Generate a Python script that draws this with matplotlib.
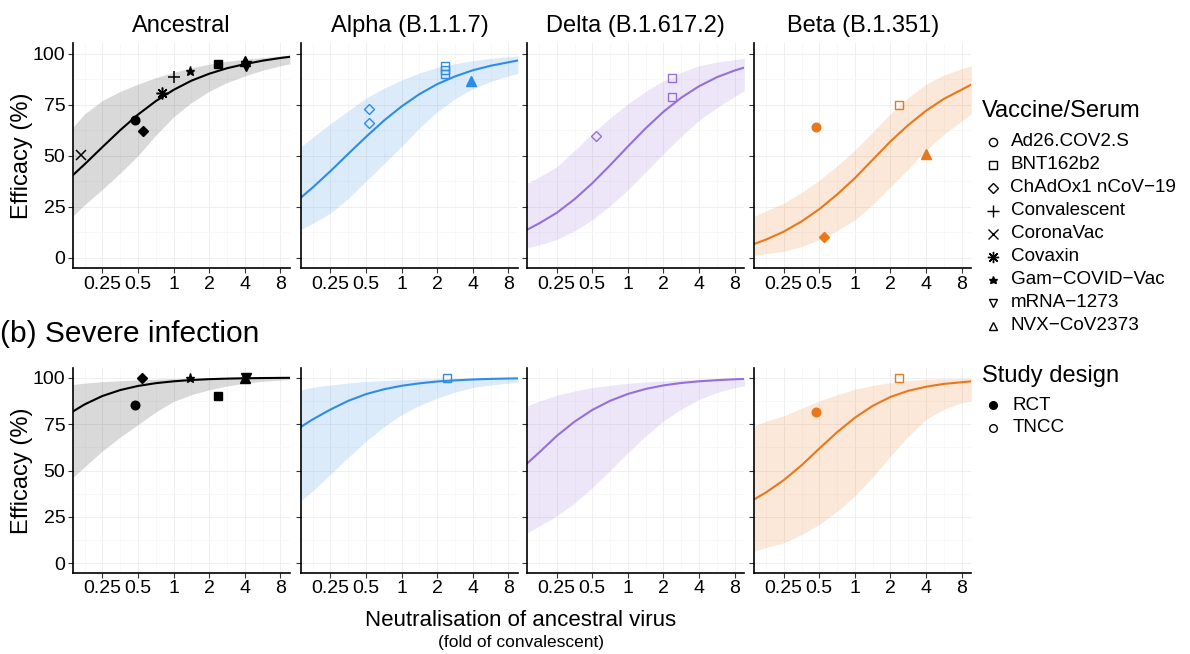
import matplotlib
matplotlib.use("Agg")
import matplotlib.pyplot as plt
from matplotlib.lines import Line2D
from matplotlib.ticker import FixedLocator, NullFormatter, FixedFormatter

plt.rcParams['font.family'] = ['Liberation Sans', 'DejaVu Sans']

# ---------------- data ----------------
variants = ["Ancestral", "Alpha (B.1.1.7)", "Delta (B.1.617.2)", "Beta (B.1.351)"]
variant_colors = ["#000000", "#2F8CE6", "#9670D6", "#E8781A"]
band_alphas = [0.15, 0.17, 0.17, 0.17]

x_ticks = [0.25, 0.5, 1, 2, 4, 8]
x_tick_labels = ["0.25", "0.5", "1", "2", "4", "8"]
y_ticks = [0, 25, 50, 75, 100]
y_tick_labels = ["0", "25", "50", "75", "100"]

# model curves (neutralisation, fold of convalescent)
curve_x = [0.141, 0.177, 0.25, 0.354, 0.5, 0.707, 1.0, 1.414, 2.0, 2.83, 4.0, 5.66, 8.0, 9.65]

# symptomatic infection
sym_mid_ancestral = [40.5, 45.8, 54.2, 62.5, 70.1, 76.7, 82.2, 86.7, 90.1, 92.8, 94.8, 96.5, 97.8, 98.4]
sym_lo_ancestral = [20.5, 26.0, 33.5, 41.5, 50.0, 60.0, 69.0, 76.0, 81.5, 85.8, 89.0, 91.8, 94.0, 95.0]
sym_hi_ancestral = [64.0, 70.5, 77.0, 81.5, 85.0, 88.2, 90.8, 93.0, 94.8, 96.2, 97.2, 98.0, 98.8, 99.2]

sym_mid_alpha = [29.5, 34.4, 42.4, 50.9, 59.2, 67.1, 74.1, 80.1, 85.0, 88.8, 91.8, 94.0, 95.7, 96.6]
sym_lo_alpha = [13.8, 16.8, 21.9, 29.0, 37.5, 46.0, 54.5, 63.5, 71.5, 77.8, 82.7, 86.3, 89.1, 90.3]
sym_hi_alpha = [54.3, 59.0, 65.6, 72.0, 78.2, 83.0, 87.0, 90.5, 93.2, 95.0, 96.5, 97.6, 98.4, 98.8]

sym_mid_delta = [13.8, 16.8, 22.0, 28.7, 36.5, 45.3, 54.5, 63.4, 71.5, 78.4, 84.0, 88.4, 91.7, 93.1]
sym_lo_delta = [4.9, 6.3, 8.9, 13.2, 18.6, 25.5, 33.2, 42.0, 51.0, 59.5, 67.3, 73.5, 79.0, 81.8]
sym_hi_delta = [36.5, 39.5, 44.6, 52.5, 60.8, 68.5, 75.4, 81.5, 86.7, 90.8, 94.0, 95.8, 97.0, 97.6]

sym_mid_beta = [6.8, 8.9, 12.8, 17.8, 23.8, 31.0, 39.0, 48.0, 57.0, 65.0, 72.0, 77.8, 82.3, 84.8]
sym_lo_beta = [1.1, 2.0, 3.2, 5.5, 8.9, 13.2, 18.6, 26.0, 34.8, 43.5, 52.7, 60.5, 67.0, 70.5]
sym_hi_beta = [20.3, 23.0, 26.7, 32.0, 38.0, 45.0, 52.7, 61.5, 70.5, 78.5, 85.0, 89.5, 92.5, 94.0]

# severe infection
sev_mid_ancestral = [81.8, 85.6, 90.1, 93.3, 95.5, 97.0, 98.0, 98.7, 99.15, 99.44, 99.64, 99.76, 99.84, 99.88]
sev_lo_ancestral = [46.3, 52.0, 60.5, 68.0, 74.7, 81.5, 87.2, 90.8, 93.4, 95.5, 97.0, 98.0, 98.6, 98.9]
sev_hi_ancestral = [96.3, 97.0, 97.8, 98.3, 98.8, 99.1, 99.4, 99.6, 99.75, 99.85, 99.9, 99.93, 99.95, 99.96]

sev_mid_alpha = [73.5, 77.5, 82.8, 87.5, 91.1, 93.7, 95.6, 96.9, 97.9, 98.5, 99.0, 99.3, 99.5, 99.6]
sev_lo_alpha = [33.8, 39.0, 48.0, 57.0, 65.8, 73.5, 80.0, 85.0, 89.0, 92.2, 94.7, 96.0, 97.0, 97.6]
sev_hi_alpha = [93.4, 94.8, 96.0, 97.1, 97.9, 98.4, 98.8, 99.1, 99.4, 99.55, 99.7, 99.75, 99.8, 99.85]

sev_mid_delta = [53.9, 59.6, 68.6, 76.3, 82.6, 87.5, 91.2, 93.9, 95.8, 97.1, 98.0, 98.6, 99.1, 99.3]
sev_lo_delta = [16.5, 20.0, 25.5, 32.5, 40.8, 50.0, 59.6, 68.5, 76.7, 83.0, 88.3, 92.0, 94.6, 95.5]
sev_hi_delta = [84.7, 87.3, 90.5, 92.8, 94.6, 95.9, 96.9, 97.6, 98.2, 98.7, 99.1, 99.35, 99.5, 99.6]

sev_mid_beta = [34.5, 38.2, 44.8, 52.8, 61.8, 70.6, 78.4, 84.8, 89.6, 92.9, 95.1, 96.6, 97.5, 98.0]
sev_lo_beta = [6.6, 8.5, 11.1, 15.5, 21.0, 28.0, 36.3, 46.5, 57.8, 68.5, 77.6, 83.0, 86.5, 87.4]
sev_hi_beta = [74.0, 76.5, 79.4, 83.5, 87.4, 90.8, 93.7, 95.8, 97.3, 98.3, 99.1, 99.4, 99.55, 99.6]

sym_mid = [sym_mid_ancestral, sym_mid_alpha, sym_mid_delta, sym_mid_beta]
sym_lo = [sym_lo_ancestral, sym_lo_alpha, sym_lo_delta, sym_lo_beta]
sym_hi = [sym_hi_ancestral, sym_hi_alpha, sym_hi_delta, sym_hi_beta]
sev_mid = [sev_mid_ancestral, sev_mid_alpha, sev_mid_delta, sev_mid_beta]
sev_lo = [sev_lo_ancestral, sev_lo_alpha, sev_lo_delta, sev_lo_beta]
sev_hi = [sev_hi_ancestral, sev_hi_alpha, sev_hi_delta, sev_hi_beta]

# study estimates
vaccines = ["Ad26.COV2.S", "BNT162b2", "ChAdOx1 nCoV\u221219", "Convalescent", "CoronaVac",
            "Covaxin", "Gam\u2212COVID\u2212Vac", "mRNA\u22121273", "NVX\u2212CoV2373"]
designs = ["RCT", "TNCC"]

pt_outcome = (["sym"] * 9 + ["sym"] * 6 + ["sym"] * 3 + ["sym"] * 4
              + ["sev"] * 6 + ["sev"] + ["sev"] * 2)
pt_variant = ([0] * 9 + [1] * 6 + [2] * 3 + [3] * 4
              + [0] * 6 + [1] + [3] * 2)
pt_vaccine = [4, 0, 2, 5, 3, 6, 1, 8, 7,
              2, 2, 1, 1, 1, 8,
              2, 1, 1,
              0, 2, 1, 8,
              0, 2, 6, 1, 8, 7,
              1,
              0, 1]
pt_neut = [0.166, 0.47, 0.55, 0.80, 1.0, 1.38, 2.37, 4.0, 4.1,
           0.53, 0.53, 2.32, 2.32, 2.32, 3.85,
           0.54, 2.35, 2.35,
           0.47, 0.55, 2.37, 4.0,
           0.47, 0.54, 1.38, 2.37, 4.0, 4.1,
           2.4,
           0.47, 2.38]
pt_eff = [50.2, 67.3, 62.0, 80.5, 88.6, 91.2, 95.0, 96.4, 94.1,
          72.9, 66.0, 94.0, 92.0, 89.8, 86.4,
          59.8, 88.0, 78.9,
          64.0, 10.4, 75.0, 51.0,
          85.0, 100.0, 100.0, 90.0, 100.0, 100.0,
          100.0,
          81.7, 100.0]
pt_design = [0, 0, 0, 0, 1, 0, 0, 0, 0,
             1, 1, 1, 1, 1, 0,
             1, 1, 1,
             0, 0, 1, 0,
             0, 0, 0, 0, 0, 0,
             1,
             0, 1]

# ---------------- styles ----------------
vac_markers = ['o', 's', 'D', '+', 'x', (8, 2, 0), '*', 'v', '^']
vac_sizes = [6.2, 5.6, 5.4, 8.5, 7.5, 8.5, 6.5, 6.5, 6.5]
line_markers = [3, 4, 5]

W, H = 1190, 654
fig = plt.figure(figsize=(W / 100, H / 100), dpi=100)

col_left = [73, 301, 527.3, 754.3]
col_w = 217
rows = [(43.3, 268.0), (368.3, 572.7)]


def fx(px):
    return px / W


def fy(py):
    return 1 - py / H


minor_x = [2 ** (k + 0.5) for k in range(-3, 4)]
minor_y = [12.5, 37.5, 62.5, 87.5]

for r, (top, bot) in enumerate(rows):
    mids, los, his = (sym_mid, sym_lo, sym_hi) if r == 0 else (sev_mid, sev_lo, sev_hi)
    outcome = "sym" if r == 0 else "sev"
    for c in range(4):
        ax = fig.add_axes([fx(col_left[c]), fy(bot), col_w / W, (bot - top) / H])
        col = variant_colors[c]
        ax.fill_between(curve_x, los[c], his[c], color=col, alpha=band_alphas[c],
                        linewidth=0, zorder=1)
        ax.plot(curve_x, mids[c], color=col, lw=1.5, zorder=2, solid_joinstyle='round')
        for i in range(len(pt_eff)):
            if pt_outcome[i] != outcome or pt_variant[i] != c:
                continue
            v = pt_vaccine[i]
            filled = pt_design[i] == 0
            if v in line_markers:
                ax.plot(pt_neut[i], pt_eff[i], linestyle='none', marker=vac_markers[v],
                        markersize=vac_sizes[v], color=col, markeredgewidth=1.1, zorder=3)
            else:
                ax.plot(pt_neut[i], pt_eff[i], linestyle='none', marker=vac_markers[v],
                        markersize=vac_sizes[v], markeredgecolor=col,
                        markerfacecolor=(col if filled else 'none'),
                        markeredgewidth=1.0, zorder=3)
        ax.set_xscale('log', base=2)
        ax.set_xlim(0.141, 9.65)
        ax.set_ylim(-5, 105)
        ax.xaxis.set_major_locator(FixedLocator(x_ticks))
        ax.xaxis.set_major_formatter(FixedFormatter(x_tick_labels))
        ax.xaxis.set_minor_locator(FixedLocator(minor_x))
        ax.xaxis.set_minor_formatter(NullFormatter())
        ax.yaxis.set_major_locator(FixedLocator(y_ticks))
        ax.yaxis.set_minor_locator(FixedLocator(minor_y))
        ax.yaxis.set_minor_formatter(NullFormatter())
        if c == 0:
            ax.yaxis.set_major_formatter(FixedFormatter(y_tick_labels))
        else:
            ax.yaxis.set_major_formatter(NullFormatter())
        ax.grid(which='major', color='#ececec', lw=0.6, zorder=0)
        ax.grid(which='minor', color='#f5f5f5', lw=0.5, zorder=0)
        ax.set_axisbelow(True)
        for s in ['top', 'right']:
            ax.spines[s].set_visible(False)
        for s in ['left', 'bottom']:
            ax.spines[s].set_linewidth(1.2)
            ax.spines[s].set_color('black')
        ax.tick_params(which='major', direction='out', length=3.5, width=0.8,
                       color='#333333', labelsize=14, labelcolor='black', pad=2)
        ax.tick_params(which='minor', length=0)
        if r == 0:
            ax.set_title(variants[c], fontsize=17, pad=8)

# axis labels and headers
for top, bot in rows:
    fig.text(fx(22), fy((top + bot) / 2), "Efficacy (%)", rotation=90,
             ha='center', va='center', fontsize=17)
fig.text(fx(0), fy(334), "(b) Severe infection", ha='left', va='center', fontsize=21.5)
fig.text(fx(521), fy(621), "Neutralisation of ancestral virus", ha='center', va='center',
         fontsize=16)
fig.text(fx(521), fy(642), "(fold of convalescent)", ha='center', va='center', fontsize=12.5)

# legends
fig.text(fx(982), fy(111), "Vaccine/Serum", ha='left', va='center', fontsize=17)
for k, name in enumerate(vaccines):
    yy = 141.7 + 23.0 * k
    face = 'black' if vac_markers[k] == '*' else 'none'
    fig.add_artist(Line2D([fx(992.5)], [fy(yy)], transform=fig.transFigure,
                          linestyle='none', marker=vac_markers[k],
                          markersize=vac_sizes[k] * 0.95, markeredgecolor='black',
                          markerfacecolor=face, color='black', markeredgewidth=1.0))
    fig.text(fx(1010.5), fy(yy), name, ha='left', va='center', fontsize=13.6)

fig.text(fx(982), fy(376), "Study design", ha='left', va='center', fontsize=17)
for k, name in enumerate(designs):
    yy = 405 + 23.0 * k
    fig.add_artist(Line2D([fx(993)], [fy(yy)], transform=fig.transFigure,
                          linestyle='none', marker='o', markersize=5.5,
                          markeredgecolor='black',
                          markerfacecolor=('black' if k == 0 else 'none'),
                          markeredgewidth=1.0))
    fig.text(fx(1013), fy(yy), name, ha='left', va='center', fontsize=13.6)

fig.savefig("out.png", dpi=100, facecolor='white')
